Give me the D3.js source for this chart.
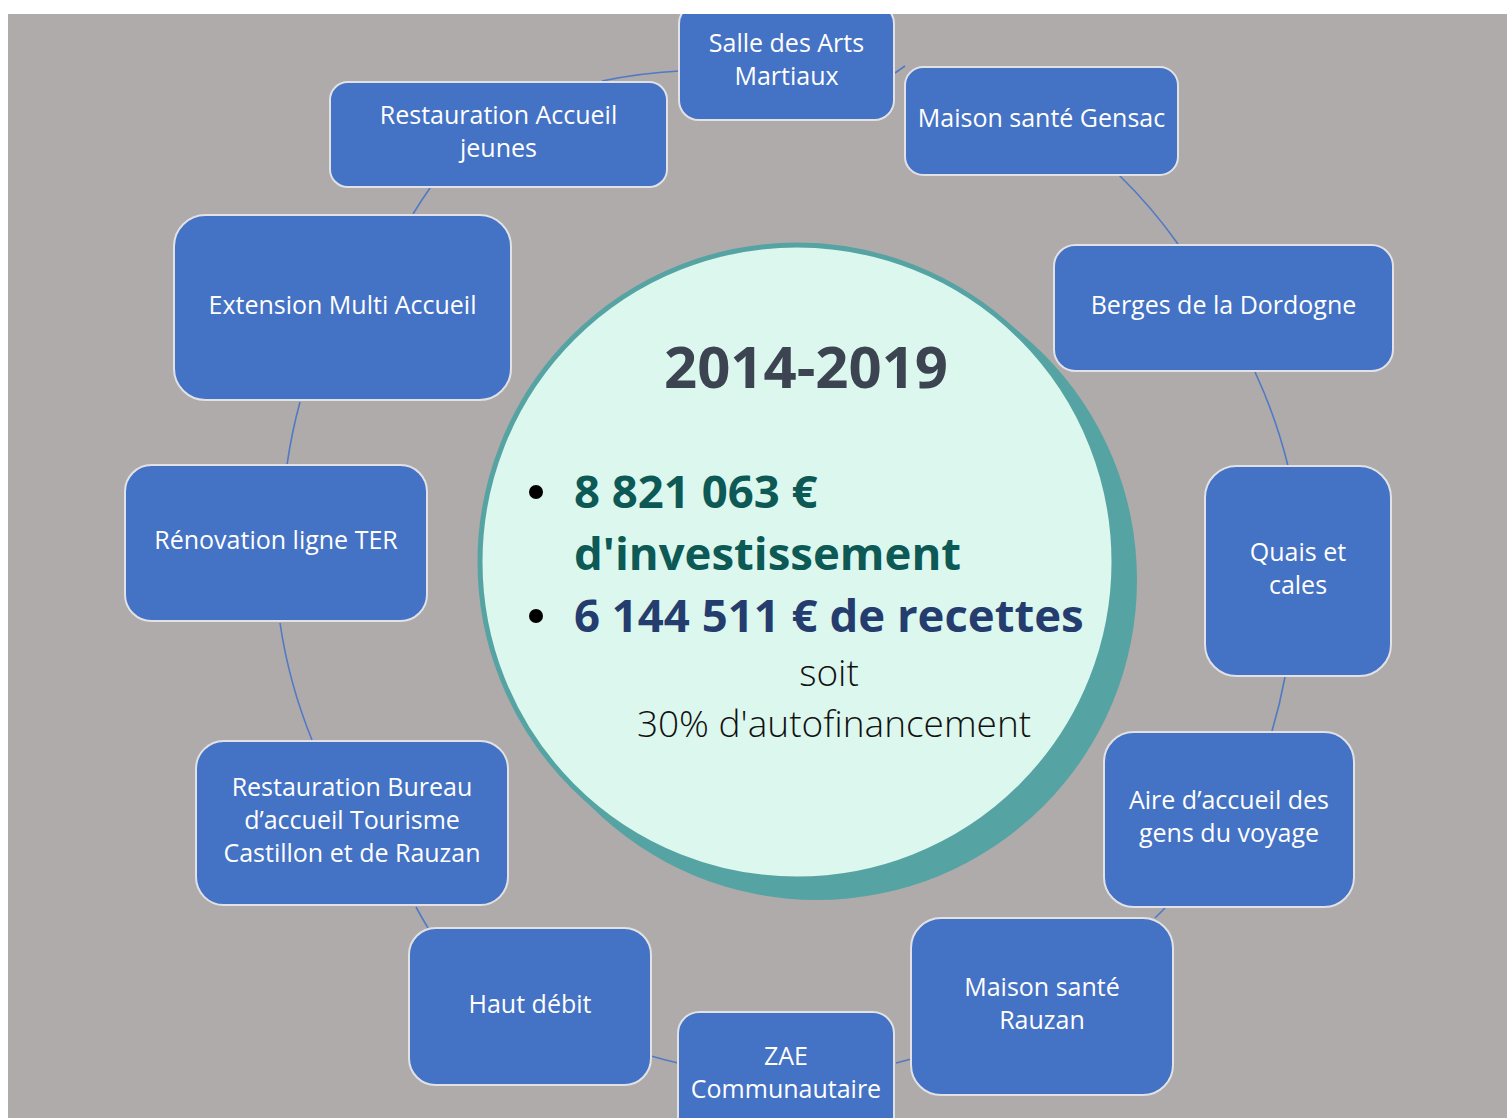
<!DOCTYPE html>
<html>
<head>
<meta charset="utf-8">
<script src="https://cdn.jsdelivr.net/npm/d3@7"></script>
<style>
  html, body { margin: 0; padding: 0; background: #ffffff; }
  svg { display: block; }
</style>
</head>
<body>
<div id="chart"></div>
<script>
// --- data ---
var periode = "2014-2019";
var investissement = "8 821 063 €";
var recettes = "6 144 511 €";
var autofinancement = "30%";

var projets = [
  ["Salle des Arts", "Martiaux"],
  ["Maison santé Gensac"],
  ["Berges de la Dordogne"],
  ["Quais et", "cales"],
  ["Aire d’accueil des", "gens du voyage"],
  ["Maison santé", "Rauzan"],
  ["ZAE", "Communautaire"],
  ["Haut débit"],
  ["Restauration Bureau", "d’accueil Tourisme", "Castillon et de Rauzan"],
  ["Rénovation ligne TER"],
  ["Extension Multi Accueil"],
  ["Restauration Accueil", "jeunes"]
];

// --- layout (box corners, same order as projets) ---
var boites = [
  [679, 4, 894, 120],
  [905, 67, 1178, 175],
  [1054, 245, 1393, 371],
  [1205, 466, 1391, 676],
  [1104, 732, 1354, 907],
  [911, 918, 1173, 1095],
  [678, 1012, 894, 1138],
  [409, 928, 651, 1085],
  [196, 741, 508, 905],
  [125, 465, 427, 621],
  [174, 215, 511, 400],
  [330, 82, 667, 187]
];

// connector end points between neighbouring boxes
var liens = [
  [[895, 73], [905, 66]],
  [[1119, 175], [1178, 244]],
  [[1255, 372], [1288, 466]],
  [[1285, 677], [1272, 731]],
  [[1165, 908], [1155, 918]],
  [[911, 1059], [896, 1063]],
  [[678, 1063], [651, 1056]],
  [[428, 928], [416, 907]],
  [[312, 740], [280, 623]],
  [[287, 465], [300, 402]],
  [[413, 214], [430, 188]],
  [[602, 81], [679, 71]]
];

var W = 1507, H = 1118;
var centre = [785, 568], rayonCycle = 505;

var svg = d3.select("#chart")
  .append("svg")
    .attr("width", W)
    .attr("height", H);

svg.append("clipPath")
    .attr("id", "zone")
  .append("rect")
    .attr("x", 8)
    .attr("y", 14)
    .attr("width", W - 8)
    .attr("height", H - 14);

var g = svg.append("g").attr("clip-path", "url(#zone)");

g.append("rect")
  .attr("x", 8)
  .attr("y", 14)
  .attr("width", W - 8)
  .attr("height", H - 14)
  .attr("fill", "#afabaa");

// connectors: slight outward bow, like arcs of the cycle
g.selectAll("path.lien")
  .data(liens)
  .enter().append("path")
    .attr("class", "lien")
    .attr("d", function(d) {
      var a = d[0], b = d[1];
      var mx = (a[0] + b[0]) / 2, my = (a[1] + b[1]) / 2;
      var half = Math.hypot(b[0] - a[0], b[1] - a[1]) / 2;
      var sag = rayonCycle - Math.sqrt(rayonCycle * rayonCycle - half * half);
      var vx = mx - centre[0], vy = my - centre[1];
      var n = Math.hypot(vx, vy);
      var cx = mx + vx / n * sag * 2, cy = my + vy / n * sag * 2;
      var p = d3.path();
      p.moveTo(a[0], a[1]);
      p.quadraticCurveTo(cx, cy, b[0], b[1]);
      return p.toString();
    })
    .attr("fill", "none")
    .attr("stroke", "#5079c6")
    .attr("stroke-width", 1.6);

// project boxes
var box = g.selectAll("g.projet")
  .data(projets.map(function(lignes, i) { return { lignes: lignes, r: boites[i] }; }))
  .enter().append("g")
    .attr("class", "projet");

box.append("rect")
  .attr("x", function(d) { return d.r[0]; })
  .attr("y", function(d) { return d.r[1]; })
  .attr("width", function(d) { return d.r[2] - d.r[0]; })
  .attr("height", function(d) { return d.r[3] - d.r[1]; })
  .attr("rx", function(d) { return 0.17 * Math.min(d.r[2] - d.r[0], d.r[3] - d.r[1]); })
  .attr("fill", "#4472c4")
  .attr("stroke", "#e2e2e6")
  .attr("stroke-width", 2);

box.each(function(d) {
  var cx = (d.r[0] + d.r[2]) / 2;
  var cy = (d.r[1] + d.r[3]) / 2 - 4;
  var n = d.lignes.length;
  d3.select(this).selectAll("text")
    .data(d.lignes)
    .enter().append("text")
      .attr("x", cx)
      .attr("y", function(t, j) { return cy + (j - (n - 1) / 2) * 33; })
      .attr("text-anchor", "middle")
      .attr("dominant-baseline", "central")
      .attr("font-family", "'Open Sans', sans-serif")
      .attr("font-size", 25)
      .attr("fill", "#ffffff")
      .text(function(t) { return t; });
});

// central circle with offset shadow
g.append("circle")
  .attr("cx", 817)
  .attr("cy", 580)
  .attr("r", 320)
  .attr("fill", "#56a3a4");

g.append("circle")
  .attr("cx", 797)
  .attr("cy", 562)
  .attr("r", 317)
  .attr("fill", "#dcf7ed")
  .attr("stroke", "#56a3a4")
  .attr("stroke-width", 5);

g.append("text")
  .attr("x", 806)
  .attr("y", 388)
  .attr("text-anchor", "middle")
  .attr("font-family", "'Open Sans', sans-serif")
  .attr("font-weight", 700)
  .attr("font-size", 58)
  .attr("fill", "#3b4450")
  .text(periode);

var puces = [
  { lignes: [investissement, "d'investissement"], couleur: "#0c5955", y: 508 },
  { lignes: [recettes + " de recettes"], couleur: "#243d6e", y: 632 }
];

puces.forEach(function(p) {
  g.append("circle")
    .attr("cx", 536)
    .attr("cy", p.y - 16)
    .attr("r", 7)
    .attr("fill", "#000000");
  g.selectAll(null)
    .data(p.lignes)
    .enter().append("text")
      .attr("x", 574)
      .attr("y", function(t, j) { return p.y + j * 62; })
      .attr("font-family", "'Open Sans', sans-serif")
      .attr("font-weight", 700)
      .attr("font-size", 45.5)
      .attr("fill", p.couleur)
      .text(function(t) { return t; });
});

g.append("text")
  .attr("x", 829)
  .attr("y", 686)
  .attr("text-anchor", "middle")
  .attr("font-family", "'Open Sans', sans-serif")
  .attr("font-weight", 300)
  .attr("font-size", 37)
  .attr("fill", "#111111")
  .text("soit");

g.append("text")
  .attr("x", 834)
  .attr("y", 737)
  .attr("text-anchor", "middle")
  .attr("font-family", "'Open Sans', sans-serif")
  .attr("font-weight", 300)
  .attr("font-size", 37)
  .attr("fill", "#111111")
  .text(autofinancement + " d'autofinancement");
</script>
</body>
</html>
